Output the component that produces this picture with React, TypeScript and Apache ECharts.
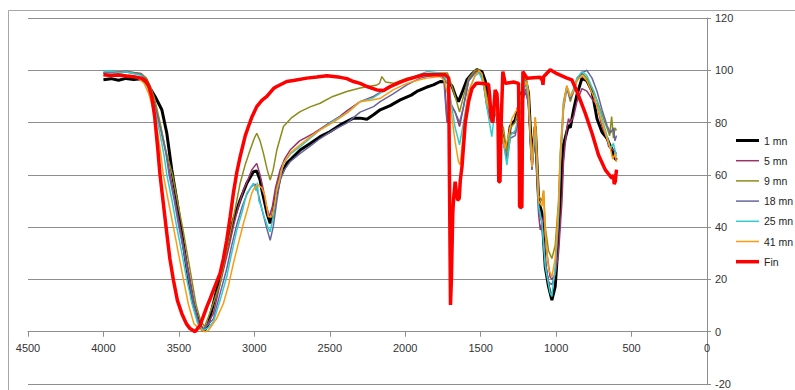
import React, { useEffect, useRef } from "react";
import * as echarts from "echarts";

const xTicks = { min: 0, max: 4500, interval: 500 };
const yTicks = { min: -20, max: 120, interval: 20 };

const seriesNames = ["1 mn", "5 mn", "9 mn", "18 mn", "25 mn", "41 mn", "Fin"];

const s1mn: number[][] = [
  [4000, 96.4], [3950, 96.8], [3900, 96.2], [3850, 96.9], [3800, 96.5], [3750, 96.8], [3723, 95.7], [3690, 93], [3658, 90],
  [3613, 84.9], [3580, 75.9], [3547, 61.9], [3514, 50.4], [3481, 37.6], [3448, 24.8], [3411, 12.1], [3370, 4], [3345, 0.8],
  [3330, 0.5], [3305, 3], [3271, 10.8], [3227, 21], [3183, 32.5], [3139, 42.7], [3094, 50.4], [3050, 56.8], [3006, 61.2],
  [2984, 61.5], [2962, 58], [2950, 54.2], [2916, 45.3], [2895, 41.5], [2880, 44], [2862, 50.4], [2829, 59.3], [2785, 64.4],
  [2740, 67], [2696, 69.5], [2630, 72], [2564, 74.6], [2500, 76.5], [2431, 79.1], [2343, 81.7], [2299, 81.7], [2254, 81.3],
  [2210, 83], [2166, 84.9], [2100, 86.5], [2033, 88.7], [1960, 90.5], [1923, 91.9], [1860, 93.5], [1813, 94.4], [1768, 95.7],
  [1720, 95.5], [1690, 94], [1665, 90], [1647, 88], [1620, 92], [1591, 96.4], [1560, 98.5], [1525, 100.2], [1492, 99.5],
  [1470, 96], [1448, 90], [1426, 83.6], [1404, 87.4], [1382, 79.8], [1360, 76], [1349, 73.4], [1326, 68.3], [1304, 78.5],
  [1271, 81], [1238, 88.7], [1205, 97], [1183, 91.3], [1160, 65.7], [1138, 78.5], [1116, 50.4], [1094, 45.3], [1072, 24.8],
  [1050, 17.2], [1028, 12.1], [1006, 17.2], [995, 26.6], [973, 49.6], [951, 71.5], [918, 79], [906, 78], [884, 84.9],
  [862, 90.6], [829, 96.9], [796, 96], [762, 92], [729, 81.5], [696, 76.4], [663, 74], [641, 71], [630, 70], [619, 67],
  [605, 66], [597, 65.7],
];

const s5mn: number[][] = [
  [4000, 99], [3950, 99.5], [3900, 99.3], [3850, 99.6], [3800, 99.2], [3750, 98.8], [3720, 97], [3690, 93], [3658, 87],
  [3620, 78], [3590, 70], [3558, 60], [3525, 50], [3492, 40], [3460, 30], [3426, 20], [3395, 10], [3365, 3], [3340, 1],
  [3310, 3], [3271, 7], [3240, 15], [3205, 23.6], [3170, 32], [3139, 40.2], [3105, 48], [3072, 54.2], [3040, 58.5],
  [3017, 61.9], [2984, 64.4], [2962, 60], [2940, 54.2], [2920, 48], [2900, 44], [2880, 48], [2860, 55], [2829, 61.9],
  [2800, 66], [2763, 69.5], [2700, 73], [2608, 75.9], [2500, 80], [2431, 82.5], [2387, 84.5], [2299, 88], [2210, 90],
  [2166, 91.5], [2080, 94], [1989, 96.4], [1900, 98], [1856, 98.6], [1768, 99], [1740, 97], [1722, 80], [1705, 88],
  [1669, 84], [1640, 78.5], [1614, 86], [1580, 96], [1536, 99.5], [1500, 99], [1480, 95], [1459, 87], [1426, 80],
  [1404, 86], [1382, 78], [1349, 72], [1326, 67], [1304, 76], [1271, 76], [1238, 84], [1205, 92], [1183, 88], [1160, 62],
  [1138, 76], [1116, 45], [1105, 38.9], [1083, 44], [1061, 30], [1040, 21], [1028, 20], [1006, 22], [984, 30], [961, 50],
  [951, 65], [929, 78], [918, 81.5], [906, 80], [884, 82.3], [862, 88], [829, 93], [796, 92], [762, 89], [729, 86.8],
  [696, 78.5], [663, 74], [652, 70.8], [630, 70], [610, 69], [600, 68],
];

const s9mn: number[][] = [
  [4000, 99], [3950, 99.3], [3900, 99], [3850, 99.4], [3800, 99], [3750, 98.5], [3715, 97], [3690, 94], [3660, 89],
  [3625, 80], [3590, 70], [3542, 60], [3510, 50], [3476, 40], [3445, 30], [3415, 20], [3385, 10], [3355, 4], [3330, 2],
  [3304, 5.7], [3265, 12], [3227, 18.5], [3195, 28], [3160, 37.6], [3127, 47], [3094, 56.8], [3060, 64], [3028, 69.5],
  [3000, 74], [2984, 75.9], [2962, 73], [2940, 68.3], [2915, 62], [2895, 58], [2875, 62], [2851, 69.5], [2807, 78.5],
  [2750, 82], [2696, 84.2], [2630, 86], [2564, 87.4], [2480, 90], [2387, 91.9], [2299, 93.2], [2188, 94.4], [2170, 95],
  [2155, 97.6], [2130, 95.5], [2078, 95], [1989, 97], [1879, 98.3], [1768, 99], [1720, 99], [1702, 96], [1669, 90],
  [1640, 84], [1614, 90], [1580, 97], [1536, 100], [1510, 100.2], [1480, 96], [1459, 90], [1426, 83], [1404, 88],
  [1382, 82], [1349, 78], [1326, 68], [1304, 78], [1271, 80], [1238, 88], [1205, 98], [1183, 92], [1160, 63], [1138, 82],
  [1116, 52], [1094, 50], [1083, 54], [1072, 40], [1050, 31], [1028, 28], [1006, 33], [984, 50], [973, 68], [951, 88],
  [929, 94], [906, 88], [884, 92], [862, 97], [829, 99], [796, 97], [751, 92], [707, 85], [663, 78], [645, 75],
  [632, 82.3], [620, 74], [610, 78], [600, 77],
];

const s18mn: number[][] = [
  [4000, 99], [3950, 99.2], [3900, 99], [3850, 99.3], [3800, 98.8], [3750, 98.3], [3720, 96.5], [3690, 92], [3658, 86],
  [3620, 77], [3585, 68], [3565, 60], [3530, 50], [3500, 40], [3465, 30], [3435, 20], [3400, 10], [3370, 3], [3340, 0.8],
  [3310, 2.5], [3271, 5], [3230, 14], [3183, 24], [3150, 33], [3116, 41], [3080, 48], [3050, 52.5], [3020, 55.5],
  [2995, 56.5], [2975, 53], [2950, 47], [2920, 40], [2895, 35], [2875, 40], [2851, 50], [2829, 58], [2800, 62],
  [2763, 65], [2696, 68.2], [2630, 71], [2564, 73.9], [2480, 77], [2387, 79.8], [2299, 84], [2210, 86.1], [2166, 88],
  [2080, 91], [1989, 94.4], [1900, 97], [1856, 97.6], [1768, 98.3], [1745, 97], [1724, 80.4], [1705, 87], [1669, 84],
  [1640, 80], [1614, 86], [1580, 96], [1536, 99], [1500, 99], [1480, 94], [1459, 86], [1426, 80], [1404, 85], [1382, 78],
  [1349, 73], [1326, 65], [1304, 74], [1271, 75], [1238, 85], [1205, 93], [1183, 87], [1160, 62], [1138, 78], [1116, 46],
  [1094, 42], [1072, 27], [1050, 19], [1028, 18], [1006, 22], [984, 42], [973, 62], [951, 85], [929, 93], [906, 89],
  [884, 92], [862, 96], [829, 99], [796, 100], [762, 97], [729, 92], [696, 85], [663, 79], [640, 76], [620, 78],
  [610, 73], [600, 75],
];

const s25mn: number[][] = [
  [4000, 99.5], [3950, 99.6], [3900, 99.2], [3850, 99.4], [3800, 98.8], [3750, 98], [3725, 96.5], [3695, 92], [3665, 86],
  [3630, 77], [3600, 68], [3580, 60], [3545, 50], [3514, 40], [3480, 30], [3448, 20], [3410, 10], [3375, 3], [3340, 0.5],
  [3305, 1.5], [3271, 3.8], [3227, 12], [3183, 21], [3150, 30], [3116, 38.9], [3080, 46], [3050, 53], [3020, 55.5],
  [3006, 56.8], [2990, 54], [2980, 57], [2970, 50], [2962, 49], [2935, 44], [2910, 40], [2895, 38.2], [2875, 44],
  [2851, 54.2], [2807, 64.4], [2760, 68], [2696, 70.8], [2630, 74], [2564, 77.2], [2480, 80.5], [2387, 83.6], [2299, 88],
  [2210, 89.5], [2166, 91.3], [2080, 94], [1989, 96.5], [1900, 98.5], [1856, 99.5], [1768, 99], [1740, 97.5], [1720, 95],
  [1702, 90], [1669, 78], [1640, 71.5], [1614, 80], [1580, 92], [1536, 98], [1510, 99], [1480, 95], [1459, 86],
  [1426, 74.6], [1404, 86], [1382, 80], [1349, 72], [1326, 63.8], [1304, 75], [1271, 77], [1238, 85], [1205, 96],
  [1183, 90], [1160, 63], [1138, 79], [1116, 48], [1094, 42], [1072, 25], [1040, 15], [1028, 13.5], [1006, 25], [984, 45],
  [973, 65], [951, 87], [929, 94], [906, 90], [884, 93], [862, 97], [829, 99.5], [796, 98], [751, 92], [707, 84],
  [663, 75], [640, 70], [620, 72], [600, 67],
];

const s41mn: number[][] = [
  [4000, 98], [3950, 98.3], [3900, 98], [3850, 98.2], [3800, 97.8], [3760, 96.5], [3730, 95], [3700, 91], [3670, 85],
  [3640, 76], [3620, 68], [3603, 60], [3570, 50], [3536, 40], [3503, 30], [3470, 20], [3435, 10], [3400, 3], [3360, 1],
  [3326, 0], [3304, 0.5], [3250, 5], [3205, 10.8], [3170, 18], [3139, 26.1], [3105, 34], [3072, 41.5], [3040, 48],
  [3017, 53], [2995, 55.5], [2973, 56.1], [2950, 55], [2930, 52], [2907, 44], [2884, 44], [2865, 49], [2851, 54.2],
  [2807, 64.4], [2760, 68.5], [2696, 71.5], [2630, 74.5], [2564, 77.2], [2480, 80], [2387, 83.6], [2299, 88],
  [2210, 88.7], [2166, 89.3], [2080, 92.5], [1989, 95], [1900, 96.5], [1856, 97], [1768, 97.6], [1740, 96], [1702, 86.7],
  [1669, 72.6], [1647, 65], [1635, 63.8], [1614, 77], [1581, 91.8], [1536, 98.2], [1510, 99.8], [1492, 98.8], [1459, 88],
  [1437, 84], [1420, 80], [1404, 86], [1393, 82.8], [1360, 76.4], [1337, 70], [1315, 75.2], [1293, 81.5], [1250, 86],
  [1216, 94.3], [1193, 95.6], [1183, 90], [1160, 63], [1138, 82], [1116, 50], [1094, 48], [1083, 54], [1072, 38],
  [1050, 24], [1028, 21], [1006, 28], [984, 48], [973, 66], [951, 86], [929, 94], [906, 90], [884, 92], [862, 96],
  [829, 98], [796, 96], [751, 90], [707, 82], [663, 74], [640, 70], [625, 66], [610, 68], [600, 65],
];

const sFin: number[][] = [
  [4000, 98.3], [3950, 98], [3900, 98.2], [3850, 97.8], [3800, 97.5], [3750, 97], [3720, 96], [3700, 94], [3680, 90],
  [3660, 82], [3640, 70], [3625, 60], [3605, 50], [3585, 40], [3560, 28], [3536, 19.7], [3510, 12], [3481, 7], [3450, 3],
  [3426, 1.2], [3393, 0], [3359, 2.5], [3315, 9.5], [3290, 13], [3271, 15.9], [3227, 22.3], [3205, 28], [3183, 35],
  [3160, 44], [3139, 53], [3116, 61], [3094, 67], [3060, 75], [3039, 78.5], [3017, 82], [2984, 86.1], [2950, 88.5],
  [2917, 90], [2873, 93], [2851, 93.8], [2785, 95.7], [2741, 96.1], [2652, 97], [2586, 97.4], [2519, 97.9], [2431, 97.3],
  [2387, 96.8], [2343, 95.7], [2299, 95], [2254, 93.8], [2188, 92.5], [2144, 92.3], [2100, 93.8], [2033, 95.5],
  [1989, 96.4], [1879, 98.3], [1800, 98.3], [1735, 98.3], [1712, 97], [1707, 60], [1700, 10.2], [1694, 20], [1685, 45],
  [1680, 50.4], [1669, 57.4], [1660, 53], [1653, 50.3], [1642, 51], [1635, 58], [1624, 63], [1602, 80], [1580, 88],
  [1558, 93], [1530, 95], [1503, 95], [1470, 94.8], [1448, 94.7], [1440, 90], [1432, 82], [1419, 80], [1404, 92.5],
  [1392, 91], [1386, 85], [1380, 57.4], [1372, 57.4], [1364, 80], [1353, 99.5], [1337, 95], [1282, 95.5], [1249, 95],
  [1244, 70], [1242, 47.8], [1227, 47.5], [1224, 70], [1220, 99.5], [1193, 97], [1105, 97.3], [1090, 96], [1087, 94.4],
  [1083, 97.5], [1039, 100.2], [995, 98.7], [928, 97], [895, 96.3], [862, 91.9], [807, 83.6], [762, 75.9], [719, 67.6],
  [674, 61.9], [630, 58.7], [620, 60], [615, 56.5], [608, 57.4], [600, 62], [597, 61.9],
];

const seriesData = [s1mn, s5mn, s9mn, s18mn, s25mn, s41mn, sFin];
const seriesColors = ["#000000", "#993366", "#8c8c1a", "#66669e", "#33cccc", "#ff9a10", "#ff0000"];
const seriesWidths = [3, 1.5, 1.5, 1.5, 1.5, 1.5, 3.5];

const GRID_TOP = 18;
const GRID_BOTTOM = 6;
const CHART_H = 390;

export default function App() {
  const ref = useRef<HTMLDivElement>(null);
  useEffect(() => {
    if (!ref.current) return;
    const chart = echarts.init(ref.current, undefined, { renderer: "svg" });
    const font = "Liberation Sans, Arial, sans-serif";
    // distance from the bottom of the plot (y = min) up to y = 0, so the x axis sits on zero
    const plotH = CHART_H - GRID_TOP - GRID_BOTTOM;
    const zeroOffset = -plotH * ((0 - yTicks.min) / (yTicks.max - yTicks.min));
    chart.setOption({
      animation: false,
      backgroundColor: "#ffffff",
      textStyle: { fontFamily: font },
      graphic: [
        {
          type: "rect",
          silent: true,
          shape: { x: 8.5, y: 10.5, width: 820, height: 420 },
          style: { fill: "none", stroke: "#a6a6a6", lineWidth: 1 },
        },
      ],
      grid: { left: 28, right: 88, top: GRID_TOP, bottom: GRID_BOTTOM, containLabel: false, outerBoundsMode: "none" },
      legend: {
        orient: "vertical",
        left: 736,
        top: 135,
        padding: 0,
        itemWidth: 23,
        itemHeight: 14,
        itemGap: 9.2,
        symbolKeepAspect: true,
        data: seriesNames.map((name, i) => ({
          name,
          icon: "path://M0 0H23V" + seriesWidths[i] + "H0Z",
        })),
        textStyle: { fontSize: 10.5, color: "#222", fontFamily: font },
      },
      xAxis: {
        type: "value",
        inverse: true,
        position: "bottom",
        offset: zeroOffset,
        min: xTicks.min,
        max: xTicks.max,
        interval: xTicks.interval,
        splitLine: { show: false },
        axisLine: { show: true, onZero: false, lineStyle: { color: "#8e8e8e", width: 1 } },
        axisTick: { show: true, length: 5, lineStyle: { color: "#8e8e8e" } },
        axisLabel: {
          fontSize: 11,
          color: "#333",
          margin: 11,
          fontFamily: font,
          formatter: (v: number) => String(v),
        },
      },
      yAxis: {
        type: "value",
        position: "right",
        min: yTicks.min,
        max: yTicks.max,
        interval: yTicks.interval,
        splitLine: { show: true, lineStyle: { color: "#8e8e8e", width: 1 } },
        axisLine: { show: true, onZero: false, lineStyle: { color: "#8e8e8e", width: 1 } },
        axisTick: { show: true, length: 4, lineStyle: { color: "#8e8e8e" } },
        axisLabel: { fontSize: 11, color: "#333", margin: 8, fontFamily: font, formatter: (v: number) => String(v) },
      },
      series: seriesNames.map((name, i) => ({
        name,
        type: "line",
        data: seriesData[i],
        symbol: "none",
        showSymbol: false,
        color: seriesColors[i],
        lineStyle: { color: seriesColors[i], width: seriesWidths[i] },
        z: 2 + i,
      })),
    });
    return () => chart.dispose();
  }, []);
  return (
    <div
      ref={ref}
      style={{ position: "absolute", left: 0, top: 0, width: 795, height: 390 }}
    />
  );
}
